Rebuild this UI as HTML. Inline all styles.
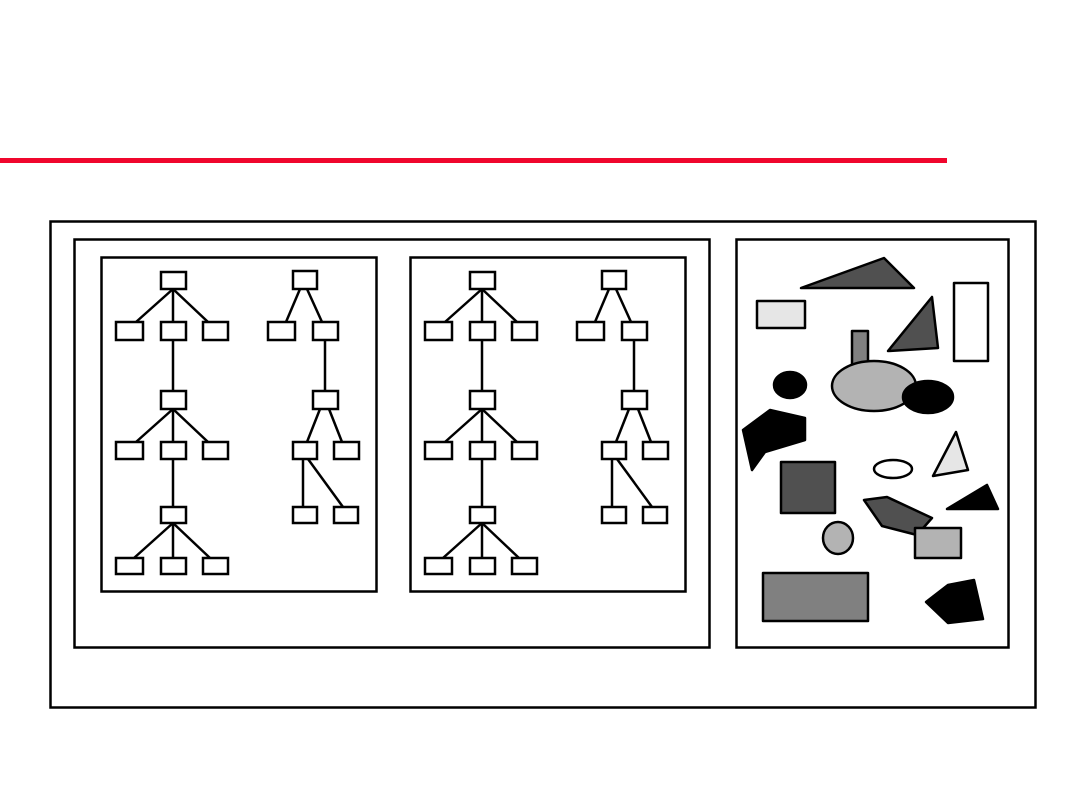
<!DOCTYPE html><html><head><style>body{margin:0;background:#fff}svg{display:block}</style></head><body>
<svg width="1080" height="810" viewBox="0 0 1080 810" xmlns="http://www.w3.org/2000/svg">
<rect x="0" y="158" width="947" height="5" fill="#f0062d"/>
<g fill="none" stroke="#000" stroke-width="2.5">
<rect x="50.5" y="221.5" width="985" height="486"/>
<rect x="74.5" y="239.5" width="635" height="408"/>
<rect x="736.5" y="239.5" width="272" height="408"/>
</g>
<defs>
<g id="tr" stroke="#000" stroke-width="2.5" fill="#fff">
<rect x="101.5" y="257.5" width="275" height="334" fill="none"/>
<line x1="173" y1="289" x2="136" y2="322"/><line x1="173" y1="289" x2="173" y2="322"/><line x1="173" y1="289" x2="208" y2="322"/>
<line x1="173" y1="340" x2="173" y2="391"/>
<line x1="173" y1="409" x2="136" y2="442"/><line x1="173" y1="409" x2="173" y2="442"/><line x1="173" y1="409" x2="208" y2="442"/>
<line x1="173" y1="459" x2="173" y2="507"/>
<line x1="173" y1="523" x2="134" y2="558"/><line x1="173" y1="523" x2="173" y2="558"/><line x1="173" y1="523" x2="210" y2="558"/>
<line x1="300" y1="289" x2="286" y2="322"/><line x1="307" y1="289" x2="322" y2="322"/>
<line x1="325" y1="340" x2="325" y2="391"/>
<line x1="320" y1="409" x2="307" y2="442"/><line x1="329" y1="409" x2="342" y2="442"/>
<line x1="303" y1="459" x2="303" y2="507"/><line x1="308" y1="459" x2="343" y2="507"/>
<rect x="161" y="272" width="25" height="17"/>
<rect x="116" y="322" width="27" height="18"/><rect x="161" y="322" width="25" height="18"/><rect x="203" y="322" width="25" height="18"/>
<rect x="161" y="391" width="25" height="18"/>
<rect x="116" y="442" width="27" height="17"/><rect x="161" y="442" width="25" height="17"/><rect x="203" y="442" width="25" height="17"/>
<rect x="161" y="507" width="25" height="16"/>
<rect x="116" y="558" width="27" height="16"/><rect x="161" y="558" width="25" height="16"/><rect x="203" y="558" width="25" height="16"/>
<rect x="293" y="271" width="24" height="18"/>
<rect x="268" y="322" width="27" height="18"/><rect x="313" y="322" width="25" height="18"/>
<rect x="313" y="391" width="25" height="18"/>
<rect x="293" y="442" width="24" height="17"/><rect x="334" y="442" width="25" height="17"/>
<rect x="293" y="507" width="24" height="16"/><rect x="334" y="507" width="24" height="16"/>
</g></defs>
<use href="#tr"/><use href="#tr" transform="translate(309,0)"/>
<g stroke="#000" stroke-width="2.5" stroke-linejoin="round">
<polygon points="801,288 884,258 914,288" fill="#505050"/>
<rect x="757" y="301" width="48" height="27" fill="#e6e6e6"/>
<rect x="954" y="283" width="34" height="78" fill="#fff"/>
<polygon points="888,351 932,297 938,348" fill="#505050"/>
<rect x="852" y="331" width="16" height="34" fill="#808080"/>
<ellipse cx="874" cy="386" rx="42" ry="25" fill="#b3b3b3"/>
<ellipse cx="928" cy="397" rx="25" ry="16" fill="#000"/>
<ellipse cx="790" cy="385" rx="16" ry="13" fill="#000"/>
<polygon points="743,430 770,410 805,418 805,440 765,452 752,470" fill="#000"/>
<rect x="781" y="462" width="54" height="51" fill="#505050"/>
<ellipse cx="893" cy="469" rx="19" ry="9" fill="#fff"/>
<polygon points="933,476 956,432 968,470" fill="#e6e6e6"/>
<polygon points="947,509 987,485 998,509" fill="#000"/>
<polygon points="864,500 887,497 932,518 917,535 882,526" fill="#505050"/>
<rect x="915" y="528" width="46" height="30" fill="#b3b3b3"/>
<ellipse cx="838" cy="538" rx="15" ry="16" fill="#b3b3b3"/>
<rect x="763" y="573" width="105" height="48" fill="#808080"/>
<polygon points="926,602 948,585 974,580 983,619 948,623" fill="#000"/>
</g>
</svg>
</body></html>
